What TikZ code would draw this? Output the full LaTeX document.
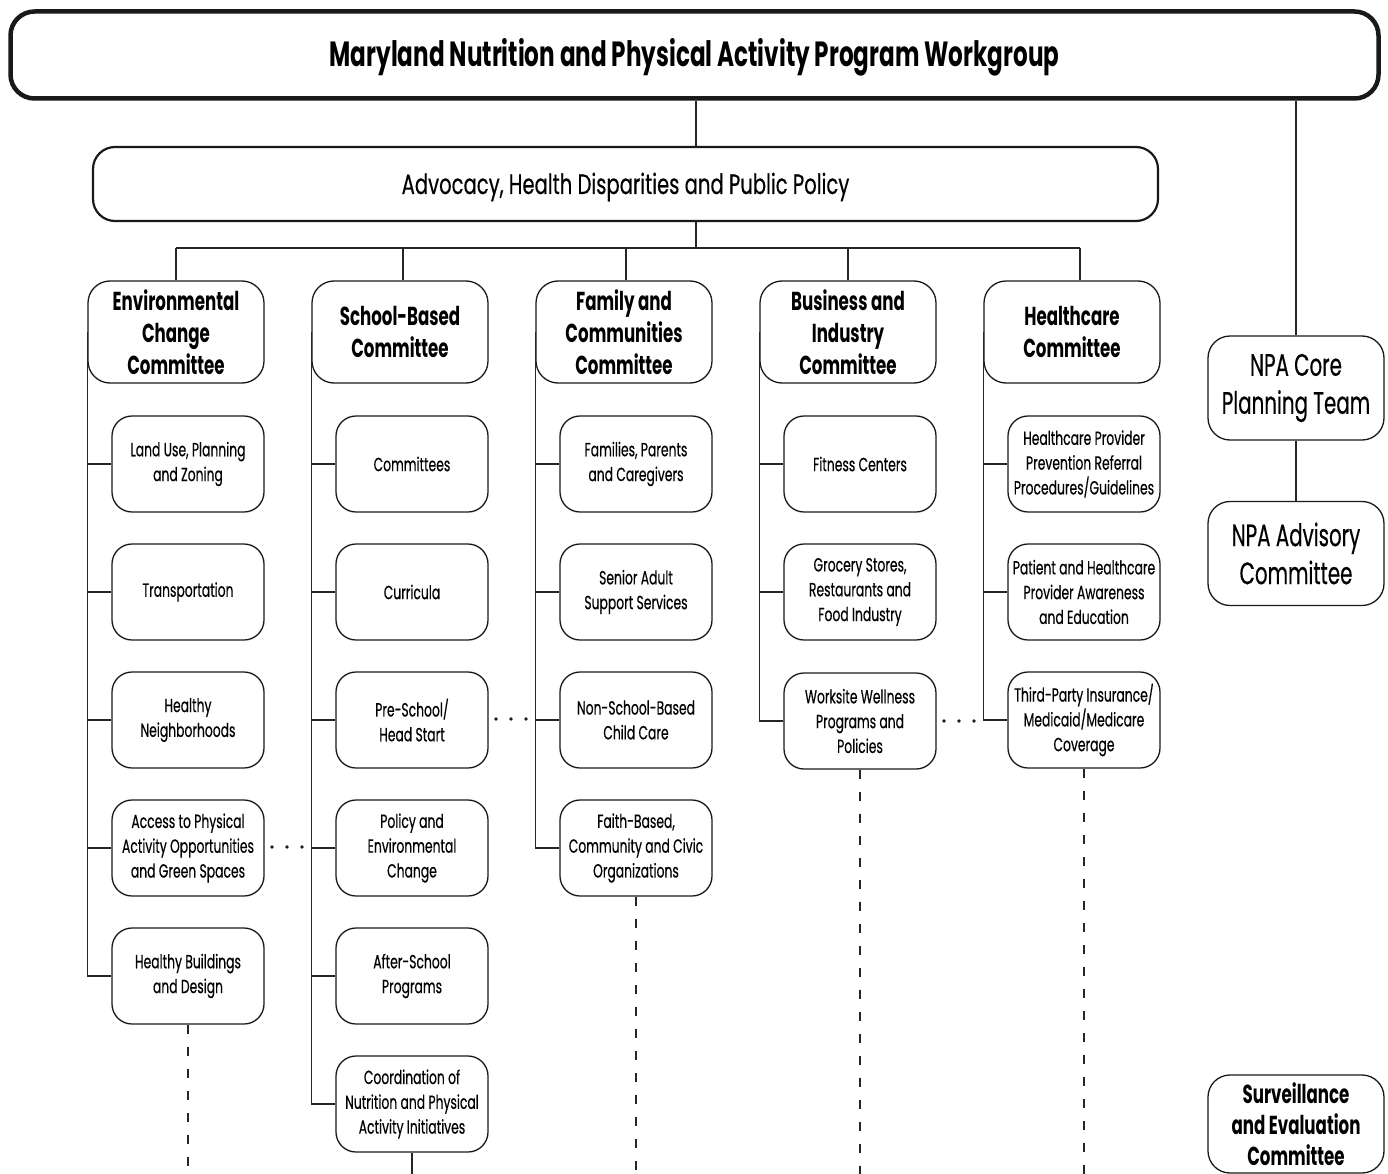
\documentclass[tikz,border=0pt]{standalone}
\usepackage{fontspec}
\setmainfont{Poppins}[FakeStretch=0.64]
\newfontfamily\titlefont{Poppins}[FakeStretch=0.66]
\newfontfamily\advfont{Poppins}[FakeStretch=0.70, FakeBold=0.4]
\newfontfamily\subfont{Poppins}[FakeStretch=0.65, FakeBold=0.4]
\newfontfamily\sidefont{Poppins}[FakeStretch=0.64, FakeBold=0.4]
\begin{document}
\begin{tikzpicture}[x=1pt,y=-1pt,
  line/.style={draw=black!85, line width=1.1pt},
  dashline/.style={line, dash pattern=on 9pt off 13pt},
  topbox/.style={draw=black!90, line width=4.5pt, rounded corners=24pt, minimum width=1368pt, minimum height=87pt, inner sep=0pt, text height=24pt, text depth=0pt, font=\titlefont\bfseries\fontsize{35}{40}\selectfont},
  advbox/.style={draw=black!90, line width=2.2pt, rounded corners=22pt, minimum width=1065pt, minimum height=74pt, inner sep=0pt, text height=20pt, text depth=0pt, font=\advfont\fontsize{28}{34}\selectfont},
  comm/.style={draw=black!90, line width=1.3pt, rounded corners=22pt, minimum width=176pt, minimum height=102pt, inner sep=0pt, align=center, font=\bfseries\fontsize{26}{32}\selectfont},
  sub/.style={draw=black!90, line width=1.3pt, rounded corners=20pt, minimum width=152pt, minimum height=96pt, inner sep=0pt, align=center, font=\subfont\fontsize{19}{24.8}\selectfont},
  side/.style={draw=black!90, line width=1.3pt, rounded corners=22pt, minimum width=176pt, minimum height=104pt, inner sep=0pt, align=center, font=\sidefont\fontsize{31}{38}\selectfont},
  sideb/.style={side, font=\bfseries\fontsize{26}{31}\selectfont},
  dot/.style={fill=black!90}
]
\useasboundingbox (0,0) rectangle (1388,1174);
\clip (0,0) rectangle (1388,1174);

% top levels
\node[topbox] (top) at (694.5,55) {Maryland Nutrition and Physical Activity Program Workgroup};
\node[advbox] (adv) at (625.5,184) {Advocacy, Health Disparities and Public Policy};
\coordinate (bus) at (696,248);
\coordinate (bottom) at (0,1180);

% committees
\node[comm] (env) at (176,332) {Environmental\\Change\\Committee};
\node[comm] (sch) at (400,332) {School-Based\\Committee};
\node[comm] (fam) at (624,332) {Family and\\Communities\\Committee};
\node[comm] (biz) at (848,332) {Business and\\Industry\\Committee};
\node[comm] (hc)  at (1072,332) {Healthcare\\Committee};

% right side
\node[side] (core) at (1296,388) {NPA Core\\Planning Team};
\node[side] (advis) at (1296,553.5) {NPA Advisory\\Committee};
\node[sideb, minimum height=98pt] (surv) at (1296,1124) {Surveillance\\and Evaluation\\Committee};

% sub boxes: environmental
\node[sub] (env1) at (188,464) {Land Use, Planning\\and Zoning};
\node[sub] (env2) at (188,592) {Transportation};
\node[sub] (env3) at (188,720) {Healthy\\Neighborhoods};
\node[sub] (env4) at (188,848) {Access to Physical\\Activity Opportunities\\and Green Spaces};
\node[sub] (env5) at (188,976) {Healthy Buildings\\and Design};
% school
\node[sub] (sch1) at (412,464) {Committees};
\node[sub] (sch2) at (412,592) {Curricula};
\node[sub] (sch3) at (412,720) {Pre-School/\\Head Start};
\node[sub] (sch4) at (412,848) {Policy and\\Environmental\\Change};
\node[sub] (sch5) at (412,976) {After-School\\Programs};
\node[sub] (sch6) at (412,1104) {Coordination of\\Nutrition and Physical\\Activity Initiatives};
% family
\node[sub] (fam1) at (636,464) {Families, Parents\\and Caregivers};
\node[sub] (fam2) at (636,592) {Senior Adult\\Support Services};
\node[sub] (fam3) at (636,720) {Non-School-Based\\Child Care};
\node[sub] (fam4) at (636,848) {Faith-Based,\\Community and Civic\\Organizations};
% business
\node[sub] (biz1) at (860,464) {Fitness Centers};
\node[sub] (biz2) at (860,592) {Grocery Stores,\\Restaurants and\\Food Industry};
\node[sub] (biz3) at (860,721) {Worksite Wellness\\Programs and\\Policies};
% healthcare
\node[sub] (hc1) at (1084,464) {Healthcare Provider\\Prevention Referral\\Procedures/Guidelines};
\node[sub] (hc2) at (1084,592) {Patient and Healthcare\\Provider Awareness\\and Education};
\node[sub] (hc3) at (1084,720) {Third-Party Insurance/\\Medicaid/Medicare\\Coverage};

% upper connectors
\draw[line] (top.south -| bus) -- (adv.north -| bus);
\draw[line] (adv.south -| bus) -- (bus);
\draw[line] (bus -| env.north) -- (bus -| 1080,0);
\draw[line] (bus -| env.north) -- (env.north);
\draw[line] (bus -| 403,0) -- (sch.north -| 403,0);
\draw[line] (bus -| 626,0) -- (fam.north -| 626,0);
\draw[line] (bus -| biz.north) -- (biz.north);
\draw[line] (bus -| 1080,0) -- (hc.north -| 1080,0);
\draw[line] (top.south -| core.north) -- (core.north);
\draw[line] (core.south) -- (advis.north);

% spines
\draw[line] (env.west) |- (env5.west);
\foreach \i in {1,...,4} \draw[line] (env.west |- env\i.west) -- (env\i.west);
\draw[line] (sch.west) |- (sch6.west);
\foreach \i in {1,...,5} \draw[line] (sch.west |- sch\i.west) -- (sch\i.west);
\draw[line] (fam.west) |- (fam4.west);
\foreach \i in {1,...,3} \draw[line] (fam.west |- fam\i.west) -- (fam\i.west);
\draw[line] (biz.west) |- (biz3.west);
\foreach \i in {1,2} \draw[line] (biz.west |- biz\i.west) -- (biz\i.west);
\draw[line] (hc.west) |- (hc3.west);
\foreach \i in {1,2} \draw[line] (hc.west |- hc\i.west) -- (hc\i.west);

% continuation lines
\draw[dashline] (env5.south) -- (env5.south |- bottom);
\draw[line] (sch6.south) -- (sch6.south |- bottom);
\draw[dashline] (fam4.south) -- (fam4.south |- bottom);
\draw[dashline] (biz3.south) -- (biz3.south |- bottom);
\draw[dashline] (hc3.south) -- (hc3.south |- bottom);

% ellipsis dots
\foreach \x in {272,287,302} \fill[dot] (\x,847) circle (1.8pt);
\foreach \x in {496,511,526} \fill[dot] (\x,719) circle (1.8pt);
\foreach \x in {944,959,974} \fill[dot] (\x,721) circle (1.8pt);
\end{tikzpicture}
\end{document}
